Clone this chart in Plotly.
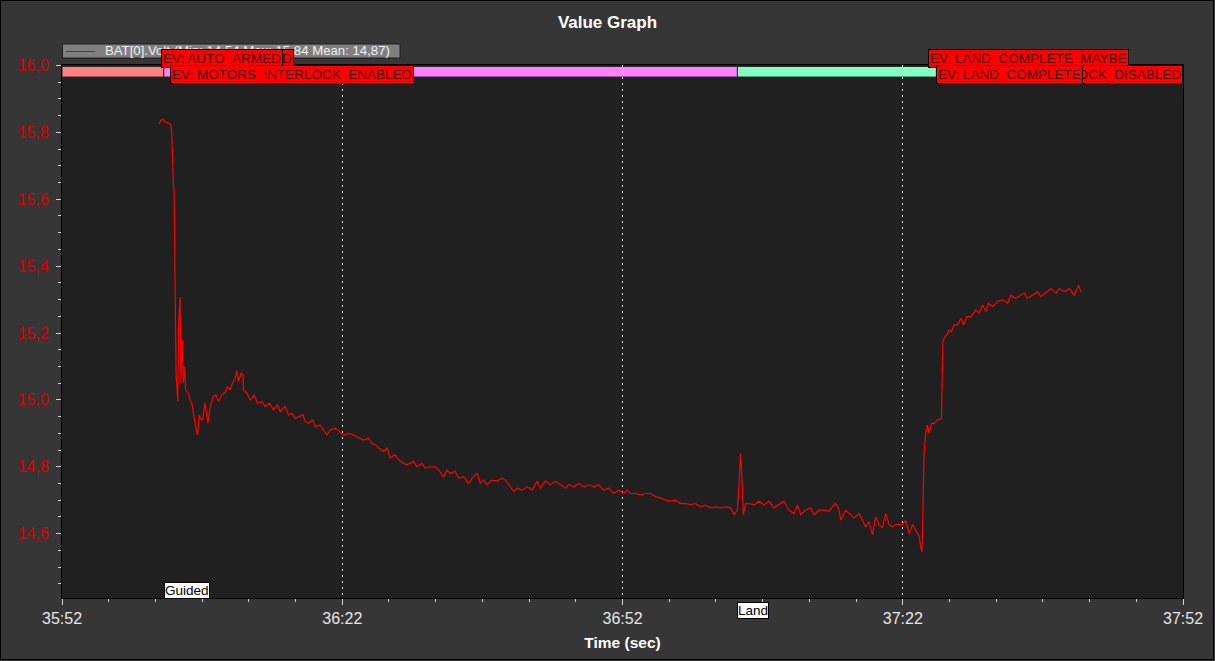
import plotly.graph_objects as go

# ---------------- data ----------------
# seconds after 35:52
time_s = [
    10.39, 10.58, 10.85, 11.04, 11.39, 11.65, 11.75, 11.82, 11.93, 12.00,
    12.08, 12.14, 12.21, 12.40, 12.46, 12.64, 12.72, 12.89, 13.00, 13.10,
    13.25, 13.53, 13.71, 13.89, 14.00, 14.25, 14.50, 14.71, 14.79, 15.03,
    15.32, 15.61, 15.86, 16.04, 16.21, 16.47, 16.75, 17.11, 17.28, 17.46,
    17.71, 18.00, 18.25, 18.54, 18.72, 18.89, 19.00, 19.18, 19.36, 19.43,
    19.79, 20.14, 20.33, 20.57, 20.93, 21.40, 21.75, 22.21, 22.64, 23.07,
    23.36, 23.89, 24.25, 24.61, 24.96, 25.32, 25.79, 26.04, 26.39, 26.86,
    27.11, 27.64, 28.36, 28.71, 29.25, 29.71, 30.14, 30.68, 31.21, 31.75,
    32.28, 32.82, 33.18, 33.54, 33.89, 34.43, 34.79, 35.14, 35.61, 36.03,
    36.57, 36.93, 37.29, 37.64, 38.00, 38.54, 38.89, 39.43, 39.96, 40.32,
    40.85, 41.22, 41.57, 42.11, 42.46, 43.00, 43.53, 43.90, 44.43, 44.79,
    45.14, 45.50, 46.04, 46.58, 47.11, 47.57, 48.00, 48.36, 48.72, 49.26,
    49.79, 50.33, 50.86, 51.22, 51.75, 52.29, 52.82, 53.36, 53.89, 54.25,
    54.79, 55.32, 55.86, 56.39, 56.93, 57.46, 58.00, 58.54, 59.07, 59.61,
    60.14, 60.50, 60.86, 61.39, 61.93, 62.47, 63.00, 63.54, 64.07, 64.61,
    65.14, 65.68, 66.22, 66.75, 67.29, 67.82, 68.36, 68.89, 69.43, 69.97,
    70.50, 71.04, 71.57, 71.93, 72.29, 72.46, 72.64, 72.83, 72.93, 73.18,
    73.54, 74.07, 74.61, 75.14, 75.68, 76.21, 76.75, 77.28, 77.82, 78.36,
    78.72, 79.07, 79.61, 80.14, 80.50, 81.04, 81.57, 82.11, 82.47, 82.82,
    83.18, 83.36, 83.89, 84.43, 84.79, 85.32, 85.68, 86.04, 86.39, 86.75,
    87.11, 87.47, 87.82, 88.18, 88.54, 88.90, 89.25, 89.71, 89.97, 90.32,
    90.68, 91.04, 91.40, 91.75, 91.93, 92.04, 92.11, 92.18, 92.28, 92.46,
    92.65, 92.82, 93.08, 93.36, 93.72, 94.15, 94.21, 94.29, 94.43, 94.72,
    94.97, 95.22, 95.50, 95.86, 96.22, 96.51, 96.86, 97.29, 97.82, 98.18,
    98.54, 98.90, 99.15, 99.62, 100.15, 100.69, 101.22, 101.58, 102.11, 102.46,
    103.00, 103.36, 103.90, 104.43, 104.79, 105.32, 105.86, 106.40, 106.75, 107.29,
    107.82, 108.36, 108.83, 109.07,
]
volts = [
    15.826, 15.836, 15.839, 15.831, 15.828, 15.824, 15.796, 15.696, 15.642, 15.627,
    15.468, 15.259, 15.080, 14.995, 15.209, 15.308, 15.050, 15.179, 15.050, 15.100,
    15.030, 15.020, 15.000, 14.990, 14.970, 14.930, 14.895, 14.955, 14.946, 14.940,
    14.990, 14.930, 14.980, 14.995, 15.010, 15.015, 14.995, 15.015, 15.020, 15.020,
    15.040, 15.030, 15.050, 15.065, 15.087, 15.055, 15.065, 15.080, 15.075, 15.030,
    15.020, 15.000, 15.005, 15.015, 14.990, 14.995, 14.980, 14.990, 14.970, 14.985,
    14.965, 14.980, 14.955, 14.960, 14.945, 14.950, 14.955, 14.935, 14.930, 14.940,
    14.920, 14.925, 14.895, 14.910, 14.915, 14.905, 14.895, 14.900, 14.895, 14.887,
    14.880, 14.885, 14.870, 14.866, 14.856, 14.846, 14.856, 14.826, 14.836, 14.821,
    14.810, 14.806, 14.810, 14.816, 14.800, 14.810, 14.796, 14.800, 14.800, 14.790,
    14.770, 14.790, 14.780, 14.786, 14.766, 14.770, 14.750, 14.766, 14.780, 14.750,
    14.760, 14.746, 14.760, 14.757, 14.766, 14.757, 14.740, 14.726, 14.736, 14.730,
    14.740, 14.730, 14.757, 14.736, 14.757, 14.746, 14.757, 14.746, 14.736, 14.746,
    14.740, 14.750, 14.740, 14.746, 14.740, 14.746, 14.730, 14.736, 14.720, 14.730,
    14.720, 14.730, 14.720, 14.720, 14.716, 14.720, 14.720, 14.710, 14.707, 14.700,
    14.697, 14.700, 14.690, 14.690, 14.687, 14.690, 14.680, 14.685, 14.677, 14.680,
    14.677, 14.680, 14.677, 14.657, 14.670, 14.740, 14.840, 14.740, 14.657, 14.690,
    14.690, 14.686, 14.697, 14.686, 14.697, 14.677, 14.686, 14.697, 14.670, 14.660,
    14.686, 14.657, 14.670, 14.677, 14.657, 14.670, 14.670, 14.667, 14.680, 14.690,
    14.670, 14.640, 14.670, 14.657, 14.647, 14.660, 14.640, 14.620, 14.635, 14.597,
    14.650, 14.627, 14.617, 14.660, 14.627, 14.620, 14.627, 14.627, 14.627, 14.640,
    14.600, 14.627, 14.610, 14.592, 14.560, 14.545, 14.600, 14.710, 14.840, 14.900,
    14.925, 14.900, 14.930, 14.930, 14.940, 14.945, 15.055, 15.174, 15.184, 15.194,
    15.209, 15.204, 15.224, 15.224, 15.244, 15.224, 15.249, 15.249, 15.269, 15.259,
    15.284, 15.264, 15.289, 15.279, 15.294, 15.300, 15.289, 15.313, 15.304, 15.310,
    15.320, 15.304, 15.313, 15.323, 15.309, 15.320, 15.333, 15.320, 15.333, 15.323,
    15.333, 15.313, 15.343, 15.323,
]
series_name = "BAT[0].Volt (Min: 14,54 Max: 15,84 Mean: 14,87)"

x_tick_vals = [0, 30, 60, 90, 120]
x_tick_text = ["35:52", "36:22", "36:52", "37:22", "37:52"]
y_tick_vals = [14.6, 14.8, 15.0, 15.2, 15.4, 15.6, 15.8, 16.0]

mode_names = ["Guided", "Land"]
mode_times = [10.9, 72.3]
mode_bar_starts = [0.0, 10.9, 72.3]
mode_bar_ends = [10.9, 72.3, 93.6]

event_names = ["EV: AUTO_ARMED", "EV: MOTORS_INTERLOCK_ENABLED",
               "EV: LAND_COMPLETE_MAYBE", "EV: MOTORS_INTERLOCK_DISABLED",
               "EV: LAND_COMPLETE"]
event_times = [10.6, 11.55, 92.75, 93.6, 93.6]

# ---------------- styling / layout ----------------
W, H = 1215, 661
L, R, T, B = 62, 32, 65, 63
PW, PH = W - L - R, H - T - B


def px_x(p):
    return (p - L) / PW


def px_y(p):
    return (H - B - p) / PH


FONT = "Liberation Sans, Arial, sans-serif"
bar_colors = ["#ff8080", "#ff80ff", "#80ffc0"]
event_rows = [0, 1, 0, 1, 1]  # 0 upper row, 1 lower row

fig = go.Figure()
fig.add_trace(go.Scatter(
    x=time_s, y=volts, mode="lines", name=series_name,
    line=dict(color="#ff0000", width=1.2), showlegend=False,
))

shapes = []
# mode bar at top of plot
for s, e, c in zip(mode_bar_starts, mode_bar_ends, bar_colors):
    shapes.append(dict(type="rect", xref="x", yref="paper", x0=s, x1=e,
                       y0=px_y(77), y1=px_y(66.5), fillcolor=c,
                       line=dict(color="#2a2a2a", width=1), layer="below"))
# legend box
shapes.append(dict(type="rect", xref="paper", yref="paper",
                   x0=px_x(62.5), x1=px_x(400), y0=px_y(58), y1=px_y(44),
                   fillcolor="#808080", line=dict(color="#1e1e1e", width=1)))
shapes.append(dict(type="line", xref="paper", yref="paper",
                   x0=px_x(66), x1=px_x(95), y0=px_y(51.5), y1=px_y(51.5),
                   line=dict(color="#e00000", width=1)))
# outer frame
shapes.append(dict(type="rect", xref="paper", yref="paper",
                   x0=px_x(0.5), x1=px_x(1213.5), y0=px_y(659.5), y1=px_y(0.5),
                   line=dict(color="#000000", width=1)))

annotations = []
annotations.append(dict(xref="paper", yref="paper", x=px_x(103), y=px_y(51),
                        xanchor="left", yanchor="middle", showarrow=False,
                        text=series_name,
                        font=dict(family=FONT, size=13.2, color="#f0f0f0")))

ev_font = dict(family=FONT, size=13.5, color="#4a0000")
row_y = [px_y(58.5), px_y(74.5)]
# hidden box behind AUTO_ARMED (only its last letter is visible)
annotations.append(dict(xref="x", yref="paper", x=event_times[0], y=row_y[0],
                        xanchor="left", yanchor="middle", showarrow=False,
                        text="D", width=129, align="right",
                        bgcolor="#ff0000", bordercolor="#000000", borderwidth=1,
                        borderpad=1, font=ev_font))
for name, t, r in zip(event_names, event_times, event_rows):
    annotations.append(dict(xref="x", yref="paper", x=t, y=row_y[r],
                            xanchor="left", yanchor="middle", showarrow=False,
                            text=name, bgcolor="#ff0000",
                            bordercolor="#000000", borderwidth=1, borderpad=1,
                            font=ev_font))
# mode labels
mode_label_y = [px_y(590), px_y(610.5)]
for name, t, yy in zip(mode_names, mode_times, mode_label_y):
    annotations.append(dict(xref="x", yref="paper", x=t, y=yy,
                            xanchor="left", yanchor="middle", showarrow=False,
                            text=name, bgcolor="#ffffff",
                            bordercolor="#000000", borderwidth=1, borderpad=0,
                            font=dict(family=FONT, size=13.5, color="#000000")))

fig.update_layout(
    width=W, height=H,
    margin=dict(l=L, r=R, t=T, b=B, pad=0),
    paper_bgcolor="#363636", plot_bgcolor="#202020",
    separators=",.",
    font=dict(family=FONT, size=16, color="#e6e6e6"),
    title=dict(text="<b>Value Graph</b>", x=0.5, xref="container", xanchor="center",
               y=1 - 22 / H, yref="container", yanchor="middle",
               font=dict(family=FONT, size=17, color="#ffffff")),
    xaxis=dict(
        range=[0, 120], tickvals=x_tick_vals, ticktext=x_tick_text,
        showgrid=True, gridcolor="#dcdcdc", griddash="2px,4px", gridwidth=1,
        zeroline=False, showline=True, linecolor="#000000", linewidth=1, mirror=True,
        ticks="outside", ticklen=6, tickcolor="#d0d0d0",
        minor=dict(dtick=5, tick0=0, ticks="outside", ticklen=3, tickcolor="#d0d0d0", showgrid=False),
        tickfont=dict(family=FONT, size=16, color="#e6e6e6"),
        title=dict(text="<b>Time (sec)</b>", standoff=10,
                   font=dict(family=FONT, size=15.5, color="#ffffff")),
    ),
    yaxis=dict(
        range=[16.0 - (PH + 0.5) / 335.0, 16.0015], tickvals=y_tick_vals,
        tickformat=".1f", showgrid=False, zeroline=False,
        showline=True, linecolor="#000000", linewidth=1, mirror=True,
        ticks="outside", ticklen=5, tickcolor="#d0d0d0",
        minor=dict(dtick=0.05, tick0=14.0, ticks="outside", ticklen=3, tickcolor="#d0d0d0"),
        tickfont=dict(family=FONT, size=16, color="#d80000"),
        ticklabelstandoff=4,
    ),
    shapes=shapes, annotations=annotations,
)

fig.write_html("out.html")
